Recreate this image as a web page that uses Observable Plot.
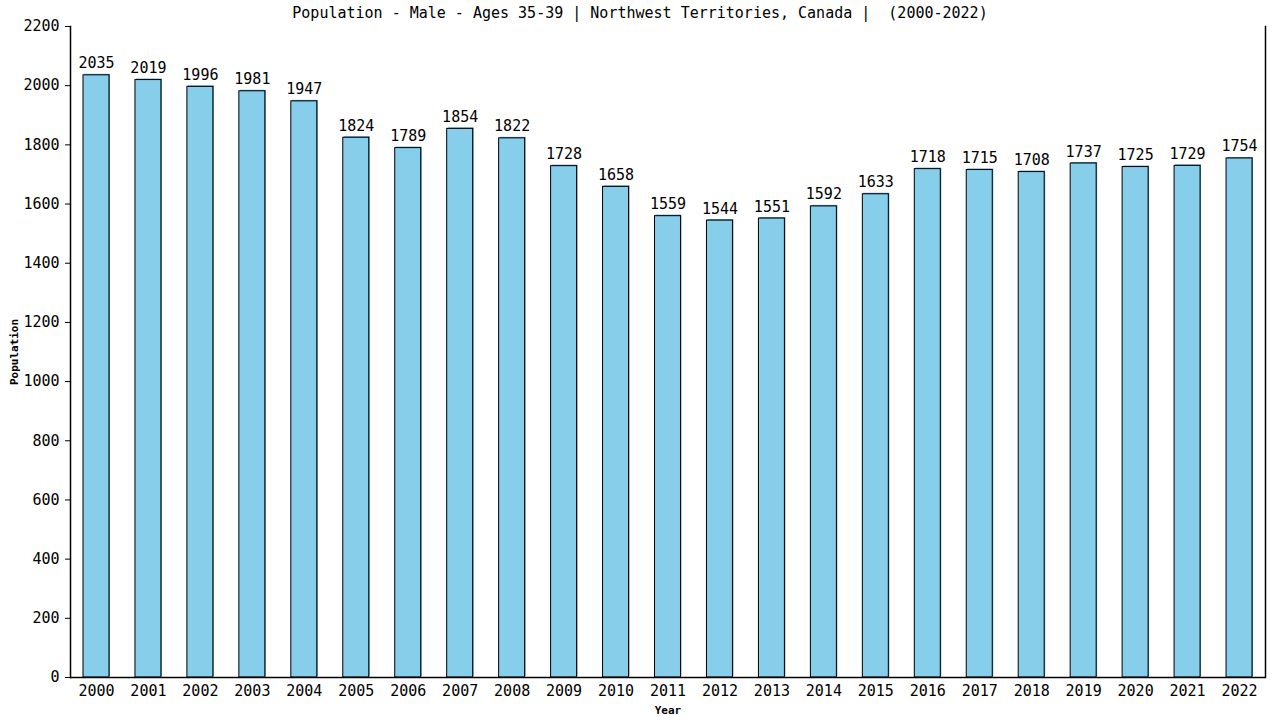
<!DOCTYPE html>
<html>
<head>
<meta charset="utf-8">
<script src="https://cdn.jsdelivr.net/npm/d3@7"></script>
<script src="https://cdn.jsdelivr.net/npm/@observablehq/plot@0.6"></script>
<style>
  html, body { margin: 0; padding: 0; background: white; }
  #title { height: 20px; line-height: 26px; text-align: center; font-family: "DejaVu Sans Mono", monospace; font-size: 15px; color: black; white-space: pre; overflow: visible; }
  g[aria-label="y-axis label"] text, g[aria-label="x-axis label"] text { font-size: 11px; font-weight: bold; }
</style>
</head>
<body>
<div id="title">Population - Male - Ages 35-39 | Northwest Territories, Canada |  (2000-2022)</div>
<div id="chart"></div>
<script>
const years = ["2000","2001","2002","2003","2004","2005","2006","2007","2008","2009","2010","2011","2012","2013","2014","2015","2016","2017","2018","2019","2020","2021","2022"];
const values = [2035,2019,1996,1981,1947,1824,1789,1854,1822,1728,1658,1559,1544,1551,1592,1633,1718,1715,1708,1737,1725,1729,1754];
const yTicks = [0,200,400,600,800,1000,1200,1400,1600,1800,2000,2200];

const data = years.map((year, i) => ({year, value: values[i]}));

const chart = Plot.plot({
  width: 1280,
  height: 700,
  marginTop: 6,
  marginLeft: 70,
  marginRight: 15,
  marginBottom: 43,
  style: {fontFamily: "DejaVu Sans Mono", fontSize: "15px", background: "white", overflow: "visible", color: "black"},
  x: {domain: years, paddingInner: 0.5, paddingOuter: 0.25, round: false, label: "Year"},
  y: {domain: [0, 2200], label: "Population"},
  marks: [
    Plot.barY(data, {x: "year", y: "value", fill: "#4f97c2", dx: 1, dy: -1}),
    Plot.barY(data, {x: "year", y: "value", fill: "#87ceeb", stroke: "black", strokeWidth: 1}),
    Plot.text(data, {x: "year", y: "value", text: d => String(d.value), dy: -7, lineAnchor: "bottom", fill: "black", fontSize: 15}),
    Plot.axisX({tickSize: 0, tickPadding: 8, label: "Year", labelArrow: "none", labelAnchor: "center", labelOffset: 36, fontSize: 15}),
    Plot.axisY({ticks: yTicks, tickFormat: d => String(d), tickSize: 5, tickPadding: 6, label: "Population", labelArrow: "none", labelAnchor: "center", labelOffset: 60, fontSize: 15}),
    Plot.ruleY([0], {stroke: "black", strokeWidth: 1.5}),
    Plot.frame({anchor: "left", stroke: "black", strokeWidth: 1.5}),
    Plot.frame({anchor: "right", stroke: "black", strokeWidth: 1.5})
  ]
});
document.getElementById("chart").appendChild(chart);
</script>
</body>
</html>
